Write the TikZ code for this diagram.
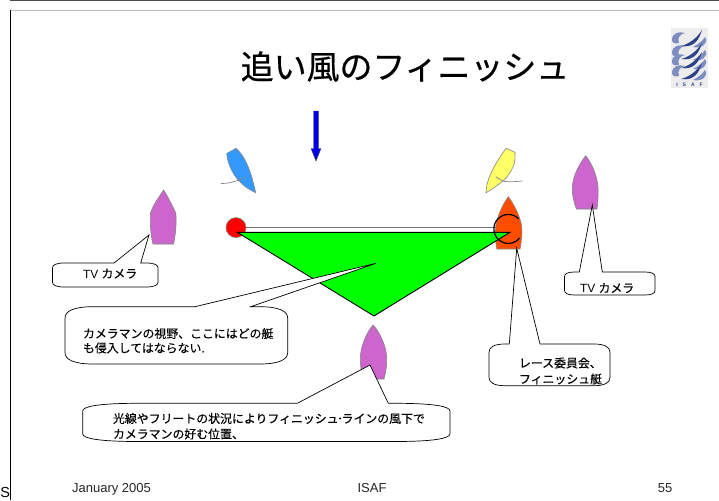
\documentclass[tikz,border=0pt]{standalone}
\usepackage{fontspec}
\setmainfont{Liberation Sans}
\newfontfamily\cjk[FakeBold=0.25]{Noto Sans CJK JP}
\newfontfamily\cjktitle[FakeBold=0.6]{Noto Sans CJK JP}
\definecolor{boatpurple}{HTML}{CC66CC}
\definecolor{boatblue}{HTML}{3399FF}
\definecolor{boatyellow}{HTML}{FFFF66}
\definecolor{boatorange}{HTML}{FF4D00}
\definecolor{outlinegrey}{HTML}{858585}
\definecolor{logoblue}{HTML}{2F4488}
\definecolor{logopale}{HTML}{7F8CC0}
\newcommand{\calloutpath}[9]{%
  \draw[calloutstyle] (#5,#2) -- (#7,#8) -- (#6,#2)
    -- (#3-#9,#2) .. controls (#3-0.3*#9,#2) and (#3,#2+0.08*#4-0.08*#2) .. (#3,#2+0.2*#4-0.2*#2)
    -- (#3,#4-0.2*#4+0.2*#2) .. controls (#3,#4-0.08*#4+0.08*#2) and (#3-0.3*#9,#4) .. (#3-#9,#4)
    -- (#1+#9,#4) .. controls (#1+0.3*#9,#4) and (#1,#4-0.08*#4+0.08*#2) .. (#1,#4-0.2*#4+0.2*#2)
    -- (#1,#2+0.2*#4-0.2*#2) .. controls (#1,#2+0.08*#4-0.08*#2) and (#1+0.3*#9,#2) .. (#1+#9,#2)
    -- cycle;}
\newcommand{\swirl}[2]{%
  \fill[logopale] (#1-17,#2+2) .. controls (#1-17,#2-5) and (#1-10,#2-7) .. (#1-4,#2-5)
     .. controls (#1-9,#2-4) and (#1-12,#2) .. (#1-10,#2+5) .. controls (#1-14,#2+6) and (#1-17,#2+5) .. (#1-17,#2+2) -- cycle;
  \fill[logoblue] (#1-8,#2+8) .. controls (#1,#2+6) and (#1+8,#2) .. (#1+13,#2-8)
     .. controls (#1+10,#2+2) and (#1+5,#2+10) .. (#1-8,#2+8) -- cycle;
  \fill[logopale] (#1+4,#2+9) .. controls (#1+10,#2+6) and (#1+14,#2+2) .. (#1+16,#2-1)
     .. controls (#1+20,#2+5) and (#1+13,#2+11) .. (#1+4,#2+9) -- cycle;}
\tikzset{
  calloutstyle/.style={draw=black,fill=white,line width=0.7pt,line join=miter},
  boatline/.style={draw=outlinegrey,line width=0.6pt},
  boomline/.style={draw=outlinegrey,line width=0.7pt},
  label/.style={anchor=base west,inner sep=0pt,outer sep=0pt,font=\fontsize{11.9}{14}\selectfont\cjk,text=black},
  latinlabel/.style={anchor=base west,inner sep=0pt,outer sep=0pt,font=\fontsize{11.9}{14}\selectfont,text=black},
  footer/.style={anchor=base,inner sep=0pt,outer sep=0pt,font=\fontsize{13}{14}\selectfont,text=black!85}
}
\begin{document}
\begin{tikzpicture}[x=1pt,y=-1pt]
\useasboundingbox (0,0) rectangle (719,500);
\fill[white] (0,0) rectangle (719,500);
% slide frame
\draw[black!70,line width=1.2pt] (10,0.5) -- (719,0.5);
\draw[black!25,line width=0.8pt] (10,10.8) -- (719,10.8);
\draw[black,line width=1pt] (10,10.5) -- (10,500);
% title
\node[anchor=base,inner sep=0pt,font=\fontsize{32.9}{36}\selectfont\cjktitle] (title) at (405,79) {追い風のフィニッシュ};
% logo
\fill[black!7] (671,28) rectangle (708,88);
\swirl{689}{38}
\swirl{689}{51}
\swirl{689}{60}
\swirl{689}{71}
\node[anchor=base,inner sep=0pt,font=\fontsize{5}{6}\selectfont\bfseries,text=logoblue] (logotext) at (689.5,87) {I\hspace{5pt}S\hspace{5pt}A\hspace{5pt}F};
% wind arrow
\fill[draw=black!70,line width=0.4pt,fill=blue!90!black] (313.5,111) -- (318.5,111) -- (318.5,148.5) -- (321,148.5) -- (316,161) -- (311,148.5) -- (313.5,148.5) -- cycle;
% racing boats
\draw[boatline,fill=boatblue] (226.7,153.5) -- (236,148.3) .. controls (240,152) and (243,156) .. (245,160) .. controls (248,166) and (250,171) .. (251.7,176.7) .. controls (253,182) and (254.5,187) .. (255.7,192.7) .. controls (250,190) and (247,188) .. (243.3,185) .. controls (239,181) and (236,178) .. (233.3,173.3) .. controls (230,168) and (227,160) .. (226.7,153.5) -- cycle;
\draw[boomline] (221,183.5) .. controls (230,183.5) and (238,181) .. (246,176.5);
\draw[boatline,fill=boatyellow] (506,148.3) -- (515,152.3) .. controls (515,156) and (515,160) .. (514.3,163.3) .. controls (513,168) and (511,171) .. (508.3,175) .. controls (506,179) and (503,181) .. (500,183.3) .. controls (495,187) and (491,190) .. (486,192.7) .. controls (486.2,189) and (486.5,186) .. (487.3,183.3) .. controls (489,177) and (491,173) .. (493.3,168.3) .. controls (496,163) and (502,154) .. (506,148.3) -- cycle;
\draw[boomline] (495.7,176.7) .. controls (499,179) and (502,181) .. (505,181.5) .. controls (511,182) and (517,181.5) .. (522.3,181);
% finish line and mark
\fill[white] (238,228) rectangle (500,232);
\draw[black!55,line width=0.8pt] (238,227.8) -- (500,227.8);
\draw[boatline,fill=red,line width=0.6pt] (236,227.6) circle (10);
% committee boat
\draw[boatline,fill=boatorange] (508.3,196.7) .. controls (513,203) and (520,215) .. (521.6,226) .. controls (522.3,234) and (521.5,242) .. (520,249) -- (496.8,249) .. controls (495.5,242) and (495,234) .. (495.8,226) .. controls (498,214) and (503,204) .. (508.3,196.7) -- cycle;
% view triangle
\draw[black,line width=0.9pt,fill=green,line join=miter] (237.3,232.3) -- (510,232.3) -- (374,316) -- cycle;
% finish flag circle
\draw[black,line width=1.2pt] (518.6,218.7) arc (-45:-321:14.5 and 14.5);
% camera boats
\draw[boatline,fill=boatpurple] (163.7,190) .. controls (168,197) and (172,205) .. (175.8,213) .. controls (176.5,222) and (176,233) .. (173.5,244) -- (153,244) .. controls (150.5,235) and (150,222) .. (150.5,213) .. controls (153,205) and (159,197) .. (163.7,190) -- cycle;
\draw[boatline,fill=boatpurple] (585.7,155.7) .. controls (591,162) and (597,175) .. (598,187) .. controls (598.2,194) and (598,202) .. (597,209) -- (576.5,209) .. controls (574,203) and (572,195) .. (572.3,187) .. controls (573,175) and (580,163) .. (585.7,155.7) -- cycle;
\draw[boatline,fill=boatpurple] (373,325) .. controls (379,331) and (386,345) .. (386.7,357) .. controls (387,364) and (386,372) .. (384,379) -- (364,379) .. controls (361,372) and (360,364) .. (360.3,357) .. controls (361,345) and (367,332) .. (373,325) -- cycle;
% callouts
\calloutpath{52.5}{263}{158}{287}{114}{140.7}{149}{235}{12}
\calloutpath{65}{306.7}{287.7}{364}{195}{250.7}{376}{263.3}{28}
\calloutpath{564.5}{272}{655}{295}{579.3}{602.3}{592.3}{205}{10}
\calloutpath{489}{344}{610}{385.7}{509.3}{540}{516.7}{248.3}{16}
\calloutpath{82.7}{403.3}{450}{441.5}{297.3}{388.3}{370}{365}{55}
% callout texts
\node[latinlabel] (tvleft) at (83,278) {TV {\cjk カメラ}};
\node[label] (viewa) at (83,338) {カメラマンの視野、ここにはどの艇};
\node[label] (viewb) at (83,352.5) {も侵入してはならない.};
\node[latinlabel] (tvright) at (580,292.5) {TV {\cjk カメラ}};
\node[label] (racea) at (519,367.5) {レース委員会、};
\node[label] (raceb) at (519,383.5) {フィニッシュ艇};
\node[label] (posa) at (113,423) {光線やフリートの状況によりフィニッシュ\kern-1.5pt ･\kern-1.5pt ラインの風下で};
\node[label] (posb) at (113,438.5) {カメラマンの好む位置、};
% footer
\node[footer] (date) at (111.5,492) {January 2005};
\node[footer] (org) at (372,492) {ISAF};
\node[footer] (page) at (665,492) {55};
\node[anchor=base west,inner sep=0pt,font=\fontsize{14.5}{16}\selectfont] (cutoff) at (0.2,497.8) {S};
\end{tikzpicture}
\end{document}
